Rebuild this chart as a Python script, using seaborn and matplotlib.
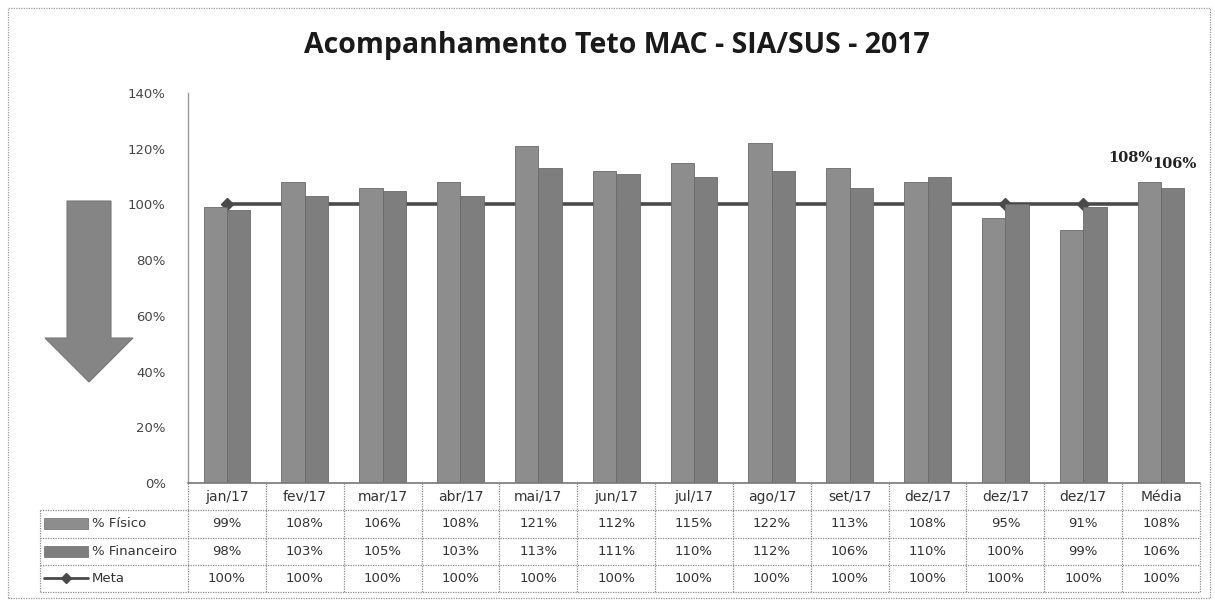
import matplotlib
matplotlib.use("Agg")
import matplotlib.pyplot as plt
import seaborn as sns
import pandas as pd
import numpy as np
from matplotlib.patches import Polygon, Rectangle

meses = ["jan/17", "fev/17", "mar/17", "abr/17", "mai/17", "jun/17", "jul/17",
         "ago/17", "set/17", "dez/17", "dez/17", "dez/17", "Média"]
fisico = [99, 108, 106, 108, 121, 112, 115, 122, 113, 108, 95, 91, 108]
financeiro = [98, 103, 105, 103, 113, 111, 110, 112, 106, 110, 100, 99, 106]
meta = [100] * 13
series_names = ["% Físico", "% Financeiro", "Meta"]
title = "Acompanhamento Teto MAC - SIA/SUS - 2017"

sns.set_theme(style="white")
plt.rcParams["font.family"] = ["DejaVu Sans"]

W, H = 1215, 601
fig = plt.figure(figsize=(W / 100, H / 100), dpi=100)
fig.patch.set_facecolor("white")

def fx(px):
    return px / W

def fy(py):
    return 1 - py / H

L, R, T, B = 188, 1200, 93, 483
ax = fig.add_axes([fx(L), fy(B), fx(R) - fx(L), fy(T) - fy(B)])

n = len(meses)
df = pd.DataFrame({
    "pos": list(range(n)) * 2,
    "serie": [series_names[0]] * n + [series_names[1]] * n,
    "valor": [v / 100 for v in fisico] + [v / 100 for v in financeiro],
})
col_fis = "#8d8d8d"
col_fin = "#7e7e7e"
sns.barplot(data=df, x="pos", y="valor", hue="serie",
            palette=[col_fis, col_fin], width=0.6, ax=ax, legend=False,
            edgecolor="#6a6a6a", linewidth=0.6, saturation=1, zorder=2)
ax.plot(range(n), [v / 100 for v in meta], color="#4a4a4a", lw=2.6,
        marker="D", markersize=6, zorder=1)

ax.set_xlim(-0.5, n - 0.5)
ax.set_ylim(0, 1.4)
ticks = np.arange(0, 1.41, 0.2)
ax.set_yticks(ticks)
ax.set_yticklabels([f"{int(round(t*100))}%" for t in ticks],
                   fontsize=9.5, color="#454545")
ax.tick_params(axis="y", length=0, pad=16)
ax.set_xticks([])
ax.set_xlabel("")
ax.set_ylabel("")
for s in ["top", "right", "bottom"]:
    ax.spines[s].set_visible(False)
ax.spines["left"].set_color("#9a9a9a")
ax.spines["left"].set_linestyle((0, (1, 1)))
ax.spines["left"].set_linewidth(1)

# labels above Média bars
bars = ax.patches
fis_bar = bars[n - 1]
fin_bar = bars[2 * n - 1]
ax.text(fis_bar.get_x() + fis_bar.get_width() / 2 - 0.25, fis_bar.get_height() + 0.06,
        f"{fisico[-1]}%", ha="center", va="bottom", fontsize=10.5,
        fontweight="bold", family="DejaVu Serif", color="#222222")
ax.text(fin_bar.get_x() + fin_bar.get_width() / 2 + 0.02, fin_bar.get_height() + 0.06,
        f"{financeiro[-1]}%", ha="center", va="bottom", fontsize=10.5,
        fontweight="bold", family="DejaVu Serif", color="#222222")

fig.text(fx(617), fy(45), title, ha="center", va="center", fontsize=20.5,
         fontweight="bold", family="Open Sans", color="#1a1a1a")

# table
unit = (R - L) / n
TL = 40
tab = fig.add_axes([fx(TL), fy(592), fx(R) - fx(TL), fy(B) - fy(592)])
x0 = -0.5 - (L - TL) / unit
tab.set_xlim(x0, n - 0.5)
tab.set_ylim(4, 0)
tab.axis("off")
lc = "#8a8a8a"
ls = (0, (1, 1))
tab.plot([-0.5, n - 0.5], [0, 0], color="#777777", lw=1.2, clip_on=False)
for yy in [1, 2, 3, 4]:
    tab.plot([x0, n - 0.5], [yy, yy], color=lc, lw=0.9, ls=ls, clip_on=False)
for k in range(n + 1):
    tab.plot([k - 0.5, k - 0.5], [0, 4], color=lc, lw=0.9, ls=ls, clip_on=False)
tab.plot([x0, x0], [1, 4], color=lc, lw=0.9, ls=ls, clip_on=False)

for i, m in enumerate(meses):
    tab.text(i, 0.5, m, ha="center", va="center", fontsize=10, color="#333333")
    tab.text(i, 1.5, f"{fisico[i]}%", ha="center", va="center", fontsize=9.5, color="#333333")
    tab.text(i, 2.5, f"{financeiro[i]}%", ha="center", va="center", fontsize=9.5, color="#333333")
    tab.text(i, 3.5, f"{meta[i]}%", ha="center", va="center", fontsize=9.5, color="#333333")

sw_w = 44 / unit
sx = x0 + 4 / unit
for r, c in [(1, col_fis), (2, col_fin)]:
    tab.add_patch(Rectangle((sx, r + 0.3), sw_w, 0.4, facecolor=c,
                            edgecolor="#6a6a6a", lw=0.5, clip_on=False))
tab.plot([sx, sx + sw_w], [3.5, 3.5], color="#4a4a4a", lw=2, clip_on=False)
tab.plot([sx + sw_w / 2], [3.5], color="#4a4a4a", marker="D", markersize=5, clip_on=False)
for r, name in zip([1, 2, 3], series_names):
    tab.text(sx + sw_w + 4 / unit, r + 0.5, name, ha="left", va="center",
             fontsize=9.5, color="#333333")

# down arrow
arrow = Polygon([(fx(67), fy(201)), (fx(111), fy(201)), (fx(111), fy(338)),
                 (fx(133), fy(338)), (fx(89), fy(382)), (fx(45), fy(338)),
                 (fx(67), fy(338))], closed=True, transform=fig.transFigure,
                facecolor="#858585", edgecolor="#777777", lw=0.8)
fig.patches.append(arrow)

# outer border
border = Rectangle((fx(8), fy(598)), fx(1210) - fx(8), fy(8) - fy(598),
                   transform=fig.transFigure, fill=False, edgecolor="#999999",
                   lw=0.9, ls=(0, (1, 1)))
fig.patches.append(border)

fig.savefig("out.png", dpi=100, facecolor="white")
